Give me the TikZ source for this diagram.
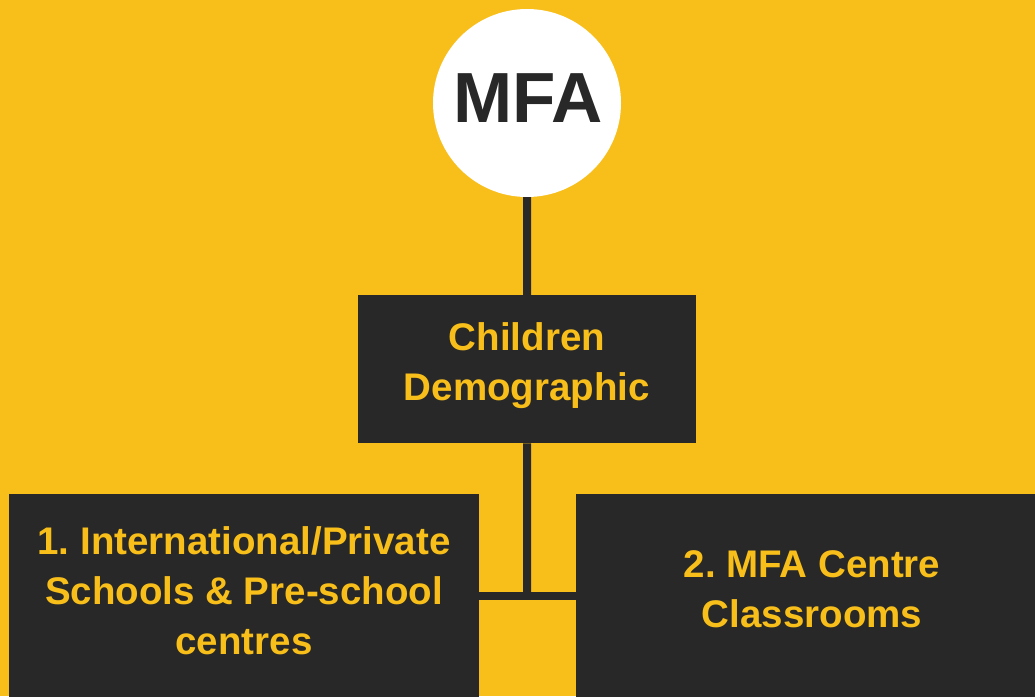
\documentclass[tikz,border=0pt]{standalone}
\usepackage{fontspec}
\setmainfont{Liberation Sans}
\definecolor{bg}{HTML}{F8BE1A}
\definecolor{dk}{HTML}{282828}
\tikzset{
  darkbox/.style={rectangle, fill=dk, inner sep=0pt, anchor=north west},
  boxtext/.style={text=bg, align=center, font=\frenchspacing\bfseries\fontsize{38.5}{50}\selectfont},
  conn/.style={draw=dk, line width=8pt},
}
\begin{document}
\begin{tikzpicture}[x=1pt,y=-1pt]
\useasboundingbox (0,0) rectangle (1035,696);
\fill[bg] (0,0) rectangle (1035,696);
% nodes
\node[circle, fill=white, minimum size=188pt, inner sep=0pt] (mfa) at (527,103) {};
\node[text=dk, font=\bfseries\fontsize{71}{71}\selectfont, inner sep=0pt] (mfatext) at (528,98) {MFA};
\node[darkbox, minimum width=338pt, minimum height=148pt] (demo) at (358,295) {};
\node[boxtext] (demotext) at (527,366) {Children\\Demographic};
\node[darkbox, minimum width=470pt, minimum height=230pt] (left) at (9,494) {};
\node[boxtext] (lefttext) at (244,591) {1. International/Private\\Schools \& Pre-school\\centres};
\node[darkbox, minimum width=473pt, minimum height=230pt] (right) at (576,494) {};
\node[boxtext] (righttext) at (812,589) {2. MFA Centre\\Classrooms};
% connectors
\coordinate (joint) at (527,592);
\draw[conn] (mfa.south) -- (demo.north);
\draw[conn] (demo.south) -- (joint);
\draw[conn] (left.east |- 0,596) -- (right.west |- 0,596);
\end{tikzpicture}
\end{document}
